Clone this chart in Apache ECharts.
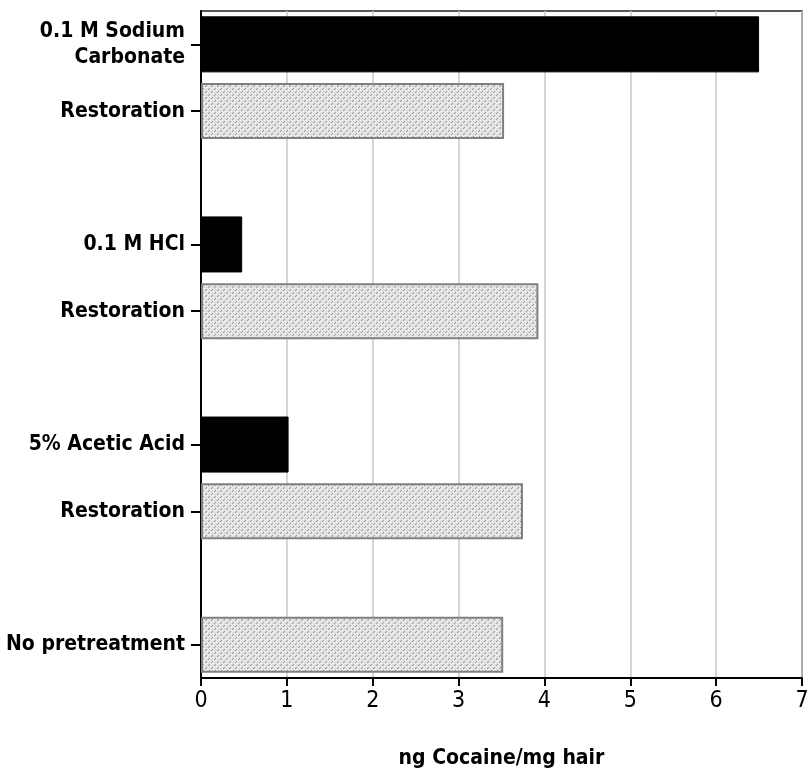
<!DOCTYPE html>
<html><head><meta charset="utf-8">
<script src="https://cdn.jsdelivr.net/npm/echarts@6/dist/echarts.min.js"></script>
<style>html,body{margin:0;padding:0;background:#fff}#c{width:808px;height:780px}</style>
</head><body><div id="c"></div>
<script>
const categories = ['0.1 M Sodium\nCarbonate','Restoration','','0.1 M HCl','Restoration','','5% Acetic Acid','Restoration','','No pretreatment'];
const values = [6.5, 3.53, null, 0.48, 3.93, null, 1.02, 3.75, null, 3.52];
const kinds = ['treat','rest',null,'treat','rest',null,'treat','rest',null,'rest'];
const xTicks = [0,1,2,3,4,5,6,7];

const pc = document.createElement('canvas');
pc.width = 6; pc.height = 6;
const g = pc.getContext('2d');
g.fillStyle = '#dedede'; g.fillRect(0,0,6,6);
g.fillStyle = '#ffffff'; g.fillRect(0,0,1,1); g.fillRect(3,3,1,1); g.fillRect(1,4,1,1); g.fillRect(4,1,1,1);
g.fillStyle = '#9a9a9a'; g.fillRect(2,1,1,1); g.fillRect(5,4,1,1); g.fillRect(1,2,1,1); g.fillRect(4,5,1,1);
g.fillStyle = '#f4f4f4'; g.fillRect(3,0,1,1); g.fillRect(0,3,1,1);

const FONT = '"Liberation Sans Narrow","DejaVu Sans Condensed","Liberation Sans",sans-serif';
const chart = echarts.init(document.getElementById('c'));
chart.setOption({
  animation:false,
  grid:{left:201,right:6,top:11,bottom:102,containLabel:false,outerBoundsMode:'none',show:true,borderColor:'#222',borderWidth:1.5},
  xAxis:{type:'value',min:0,max:7,interval:1,
    name:'ng Cocaine/mg hair',nameLocation:'middle',nameGap:70,
    nameTextStyle:{fontFamily:FONT,fontSize:21,fontWeight:'bold',color:'#000'},
    axisLine:{show:true,lineStyle:{color:'#000',width:2}},
    axisTick:{show:true,length:8,lineStyle:{color:'#000',width:2}},
    axisLabel:{fontFamily:FONT,fontSize:23,color:'#000',margin:12,formatter:v=>xTicks.includes(v)?String(v):''},
    splitLine:{show:true,lineStyle:{color:'#c8c8c8',width:1.5}}},
  yAxis:{type:'category',inverse:true,data:categories,
    axisLine:{show:true,lineStyle:{color:'#000',width:2}},
    axisTick:{show:true,alignWithLabel:true,length:10,lineStyle:{color:'#000',width:2},
      interval:(i,v)=>v!==''},
    axisLabel:{interval:0,fontFamily:FONT,fontSize:21,fontWeight:'bold',color:'#000',margin:16,lineHeight:26,align:'right'},
    splitLine:{show:false}},
  series:[{type:'bar',barCategoryGap:'16%',
    data:values.map((v,i)=>({value:v,itemStyle: kinds[i]==='treat'
      ? {color:'#000',borderColor:'#000',borderWidth:1}
      : {color:{image:pc,repeat:'repeat'},borderColor:'#808080',borderWidth:2}}))}]
});
</script></body></html>
